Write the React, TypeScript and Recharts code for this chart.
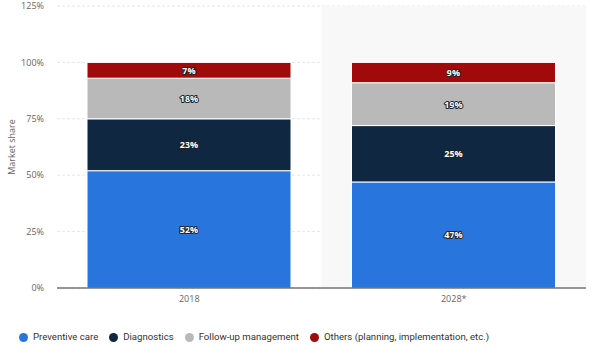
import React from "react";
import { BarChart, Bar, XAxis, YAxis, CartesianGrid, Legend, LabelList, ReferenceArea } from "recharts";

const categories = ["2018", "2028*"];
const preventiveCare = [52, 47];
const diagnostics = [23, 25];
const followUp = [18, 19];
const others = [7, 9];
const yTicks = [0, 25, 50, 75, 100, 125];

const seriesNames = ["Preventive care", "Diagnostics", "Follow-up management", "Others (planning, implementation, etc.)"];
const seriesKeys = ["preventive", "diagnostics", "followup", "others"];
const colors = ["#2876DD", "#0F2740", "#B9B9B9", "#A10A0A"];

const data = categories.map((c, i) => ({
  name: c,
  preventive: preventiveCare[i],
  diagnostics: diagnostics[i],
  followup: followUp[i],
  others: others[i],
}));

const FONT = "'Open Sans', 'DejaVu Sans', sans-serif";
const LEGEND_FONT = "Roboto, 'Liberation Sans', sans-serif";

const renderLabel = (props: any) => {
  const { x, y, width, height, value } = props;
  return (
    <text
      x={x + width / 2}
      y={y + height / 2}
      textAnchor="middle"
      dominantBaseline="central"
      fontFamily={FONT}
      fontSize={9}
      fontWeight="bold"
      fill="#fff"
      stroke="#222"
      strokeWidth={2}
      strokeLinejoin="round"
      style={{ paintOrder: "stroke" }}
    >
      {value}%
    </text>
  );
};

const CustomLegend = () => (
  <div style={{ display: "flex", alignItems: "center", fontFamily: LEGEND_FONT, fontSize: 9.6, color: "#333", paddingLeft: 19, lineHeight: "12px" }}>
    {seriesNames.map((n, i) => (
      <div key={n} style={{ display: "flex", alignItems: "center", marginRight: 11 }}>
        <span style={{ display: "inline-block", width: 9, height: 9, borderRadius: 5, background: colors[i], marginRight: 5 }} />
        <span>{n}</span>
      </div>
    ))}
  </div>
);

export default function App() {
  return (
    <div style={{ position: "absolute", left: 0, top: 0, width: 602, height: 363, background: "#fff" }}>
      <BarChart width={602} height={363} data={data} margin={{ top: 6, right: 16, left: 0, bottom: 0 }}>
        <ReferenceArea x1="2028*" x2="2028*" fill="#f8f8f8" fillOpacity={1} stroke="none" ifOverflow="extendDomain" />
        <CartesianGrid vertical={false} stroke="#e6e6e6" strokeDasharray="3 2" />
        <XAxis
          dataKey="name"
          axisLine={{ stroke: "#333" }}
          tickLine={false}
          tick={{ fontFamily: FONT, fontSize: 9, fill: "#666" }}
          tickMargin={2}
        />
        <YAxis
          domain={[0, 125]}
          ticks={yTicks}
          tickFormatter={(v: number) => `${v}%`}
          axisLine={false}
          tickLine={false}
          tickSize={0}
          tickMargin={13}
          width={57}
          tick={{ fontFamily: FONT, fontSize: 9, fill: "#666" }}
          label={{ value: "Market share", angle: -90, position: "insideLeft", offset: 12, style: { fontFamily: FONT, fontSize: 9, fill: "#666", textAnchor: "middle" } }}
        />
        <Legend verticalAlign="bottom" align="left" height={45} content={<CustomLegend />} wrapperStyle={{ top: 331, bottom: "auto", left: 0 }} />
        {seriesKeys.map((k, i) => (
          <Bar key={k} dataKey={k} name={seriesNames[i]} stackId="a" fill={colors[i]} stroke="#fff" strokeWidth={1} barSize={204} isAnimationActive={false}>
            <LabelList dataKey={k} content={renderLabel} />
          </Bar>
        ))}
      </BarChart>
    </div>
  );
}
